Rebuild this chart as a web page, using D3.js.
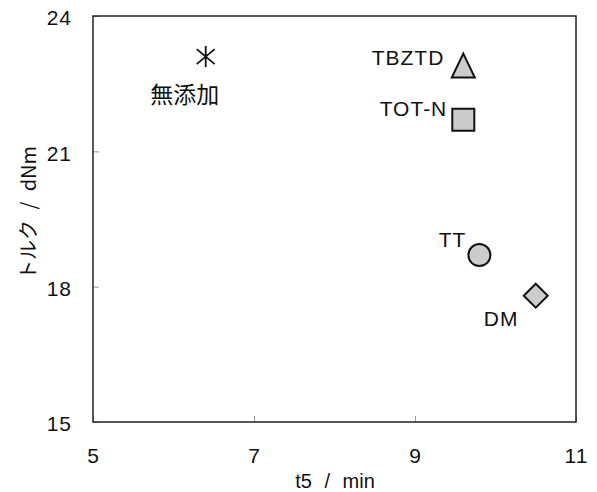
<!DOCTYPE html>
<html>
<head>
<meta charset="utf-8">
<script src="https://cdn.jsdelivr.net/npm/d3@7"></script>
<style>
  body { margin: 0; background: #fff; }
  text { font-family: "Liberation Sans", Arial, "Noto Sans CJK JP", sans-serif; fill: #111; }
</style>
</head>
<body>
<svg width="597" height="492"></svg>
<script>
let names = ["無添加", "TBZTD", "TOT-N", "TT", "DM"]
let t5 = [6.4, 9.6, 9.6, 9.8, 10.5]
let torque = [23.1, 22.9, 21.7, 18.7, 17.8]
let shapes = ["asterisk", "triangle", "square", "circle", "diamond"]
let xTicks = [5, 7, 9, 11]
let yTicks = [15, 18, 21, 24]

let svg = d3.select('svg')
let plotLeft = 93, plotRight = 576, plotTop = 16, plotBottom = 422

let xScale = d3.scaleLinear().domain([5, 11]).range([plotLeft, plotRight])
let yScale = d3.scaleLinear().domain([15, 24]).range([plotBottom, plotTop])

// axes with inward ticks
let xAxis = d3.axisBottom(xScale).tickValues(xTicks).tickFormat(d3.format('d'))
              .tickSizeInner(-6).tickSizeOuter(0).tickPadding(26)
let yAxis = d3.axisLeft(yScale).tickValues(yTicks).tickFormat(d3.format('d'))
              .tickSizeInner(-6).tickSizeOuter(0).tickPadding(21)

let gx = svg.append('g').attr('transform', 'translate(0,' + plotBottom + ')').call(xAxis)
let gy = svg.append('g').attr('transform', 'translate(' + plotLeft + ',0)').call(yAxis)

for (let g of [gx, gy]) {
  g.select('.domain').remove()
  g.selectAll('.tick line').attr('stroke', '#999').attr('stroke-width', 1)
  g.selectAll('.tick text').style('font-size', '21px').attr('fill', '#111')
    .style('letter-spacing', '1px')
    .style('font-family', '"Liberation Sans", Arial, sans-serif')
}
gy.selectAll('.tick text').attr('dy', '0.42em')

// frame
svg.append('rect')
   .attr('x', plotLeft).attr('y', plotTop)
   .attr('width', plotRight - plotLeft).attr('height', plotBottom - plotTop)
   .attr('fill', 'none').attr('stroke', '#222').attr('stroke-width', 1.5)

// axis titles
svg.append('text')
   .attr('x', 335).attr('y', 488)
   .attr('text-anchor', 'middle')
   .style('font-size', '20px')
   .style('word-spacing', '7px')
   .text('t5 / min')

svg.append('text')
   .attr('transform', 'translate(36,213) rotate(-90)')
   .attr('text-anchor', 'middle')
   .style('font-size', '20px')
   .style('word-spacing', '6px')
   .style('font-family', '"Noto Sans CJK JP", "Liberation Sans", sans-serif')
   .text('トルク / dNm')

// markers
let shapePath = (s) => {
  if (s === "triangle") return "M0,-12L11.5,12L-11.5,12Z"
  if (s === "square") return "M-11,-11H11V11H-11Z"
  if (s === "diamond") return "M0,-12L12,0L0,12L-12,0Z"
  if (s === "asterisk") return "M0,-10.5V10.5M-9,-7.5L9,7.5M-9,7.5L9,-7.5"
  return null
}

let pts = svg.selectAll('g.pt')
   .data(names.map((n, i) => ({ name: n, x: t5[i], y: torque[i], shape: shapes[i] })))
   .enter()
   .append('g')
   .attr('class', 'pt')
   .attr('transform', d => 'translate(' + xScale(d.x) + ',' + yScale(d.y) + ')')

pts.filter(d => d.shape === "circle")
   .append('circle').attr('r', 11)
   .attr('fill', '#cccccc').attr('stroke', '#111').attr('stroke-width', 2)

pts.filter(d => d.shape !== "circle")
   .append('path').attr('d', d => shapePath(d.shape))
   .attr('fill', d => d.shape === "asterisk" ? 'none' : '#cccccc')
   .attr('stroke', '#111')
   .attr('stroke-width', d => d.shape === "asterisk" ? 1.8 : 2)
   .attr('stroke-linejoin', 'miter')

// point labels (offsets relative to marker)
let labelPos = {
  "無添加": { dx: -21, dy: 46, anchor: "middle" },
  "TBZTD": { dx: -19, dy: -1, anchor: "end" },
  "TOT-N": { dx: -16, dy: -4, anchor: "end" },
  "TT": { dx: -13, dy: -8, anchor: "end" },
  "DM": { dx: -52, dy: 30, anchor: "start" }
}

pts.append('text')
   .attr('x', d => labelPos[d.name].dx)
   .attr('y', d => labelPos[d.name].dy)
   .attr('text-anchor', d => labelPos[d.name].anchor)
   .style('font-size', d => d.name === "無添加" ? '23px' : '21px')
   .style('letter-spacing', d => d.name === "無添加" ? '0px' : '1px')
   .style('font-family', d => d.name === "無添加" ? '"Noto Sans CJK JP", sans-serif' : '"Liberation Sans", Arial, sans-serif')
   .text(d => d.name)
</script>
</body>
</html>
